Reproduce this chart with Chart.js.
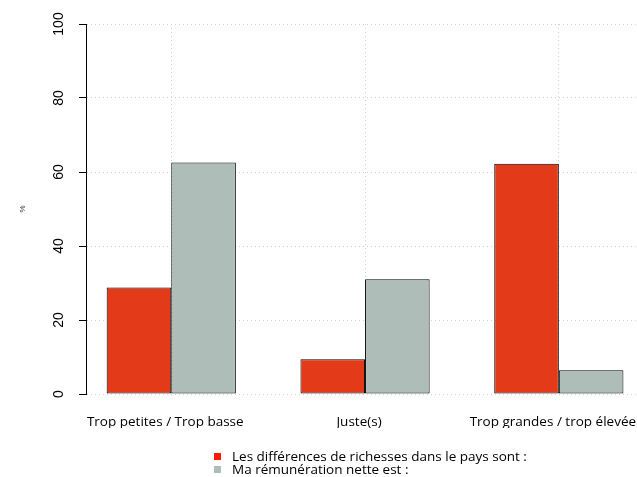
<!DOCTYPE html>
<html>
<head>
<meta charset="utf-8">
<script src="https://cdn.jsdelivr.net/npm/chart.js@4/dist/chart.umd.min.js"></script>
<style>
  html, body { margin: 0; padding: 0; background: #fff; overflow: hidden; }
  #wrap { position: relative; width: 637px; height: 477px; }
  #legend { position: absolute; left: 214px; top: 450px; font: 13.5px "Open Sans", sans-serif; color: #000; line-height: 13px; }
  #legend div { position: relative; padding-left: 18px; white-space: nowrap; }
  #legend span { position: absolute; left: 0; top: 3px; width: 7px; height: 7px; }
</style>
</head>
<body>
<div id="wrap">
  <canvas id="chart" width="637" height="477"></canvas>
  <div id="legend"></div>
</div>
<script>
// data
const categories = ["Trop petites / Trop basse", "Juste(s)", "Trop grandes / trop élevée"];
const richesses = [28.8, 9.4, 62.2];
const remuneration = [62.6, 31.0, 6.4];
const yTicks = [0, 20, 40, 60, 80, 100];
const seriesNames = ["Les différences de richesses dans le pays sont :", "Ma rémunération nette est :"];
const barColors = ["#e33b1a", "#aebdb7"];
const legendColors = ["#ff1a00", "#aebdb7"];

// barplot-style positions: one empty bar width between groups
const groupX = categories.map((c, i) => 2 + 3 * i);

const ctx = document.getElementById("chart").getContext("2d");

new Chart(ctx, {
    type: 'bar',
    data: {
        datasets: [{
            label: seriesNames[0],
            data: richesses.map((v, i) => ({ x: groupX[i], y: v })),
            backgroundColor: barColors[0],
            borderColor: '#000',
            borderWidth: 1,
            borderSkipped: false
        }, {
            label: seriesNames[1],
            data: remuneration.map((v, i) => ({ x: groupX[i], y: v })),
            backgroundColor: barColors[1],
            borderColor: '#000',
            borderWidth: 1,
            borderSkipped: false
        }]
    },
    options: {
        responsive: false,
        animation: false,
        devicePixelRatio: 1,
        layout: { padding: { top: 24, left: 0, right: 0, bottom: 49 } },
        datasets: { bar: { categoryPercentage: 2 / 3, barPercentage: 1 } },
        plugins: {
            legend: { display: false },
            tooltip: { enabled: false }
        },
        scales: {
            x: {
                type: 'linear',
                min: 0.68,
                max: 9.21,
                offset: false,
                z: 1,
                grid: { offset: false, drawTicks: false, color: '#d0d0d0', lineWidth: 1 },
                border: { display: false, dash: [1, 3] },
                afterBuildTicks: scale => { scale.ticks = groupX.map(v => ({ value: v })); },
                afterFit: scale => { scale.height = 34; scale.paddingLeft = 0; scale.paddingRight = 0; },
                ticks: {
                    maxRotation: 0,
                    minRotation: 0,
                    padding: 20,
                    labelOffset: -6,
                    color: '#000',
                    font: { family: 'Open Sans', size: 13.5 },
                    callback: (v) => categories[groupX.indexOf(v)]
                }
            },
            y: {
                min: 0,
                max: 100,
                z: 1,
                grid: { color: '#d0d0d0', lineWidth: 1, tickLength: 7, tickColor: '#000', tickBorderDash: [], tickWidth: 1 },
                border: { display: true, color: '#000', width: 1, dash: [1, 3] },
                afterBuildTicks: scale => { scale.ticks = yTicks.map(v => ({ value: v })); },
                afterFit: scale => { scale.width = 86; },
                title: {
                    display: true,
                    text: '%',
                    color: '#333',
                    font: { family: 'Liberation Sans', size: 8 },
                    padding: { top: 18, bottom: 0 }
                },
                ticks: {
                    minRotation: 90,
                    maxRotation: 90,
                    crossAlign: 'center',
                    padding: 8,
                    color: '#000',
                    font: { family: 'Liberation Sans', size: 14 }
                }
            }
        }
    }
});

// legend stacked under the plot, as in the original
const legend = document.getElementById("legend");
seriesNames.forEach((name, i) => {
    const row = document.createElement("div");
    const box = document.createElement("span");
    box.style.background = legendColors[i];
    row.appendChild(box);
    row.appendChild(document.createTextNode(name));
    legend.appendChild(row);
});
</script>
</body>
</html>
